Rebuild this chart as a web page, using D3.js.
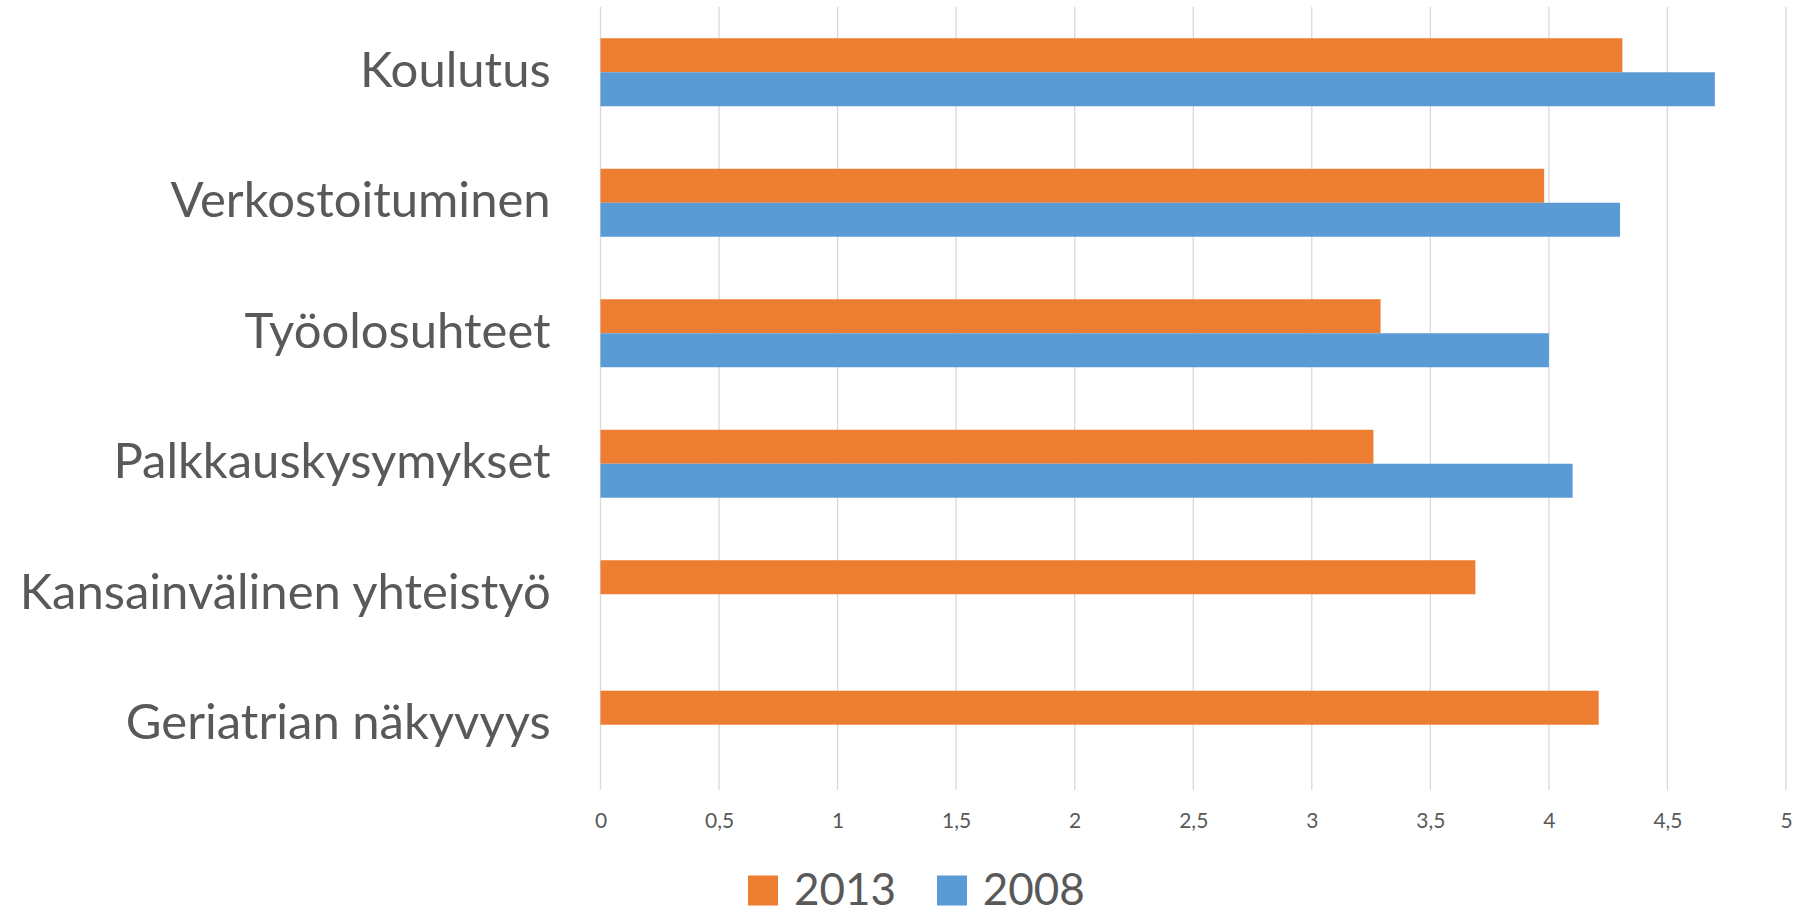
<!DOCTYPE html>
<html>
<head>
<meta charset="utf-8">
<script src="https://cdn.jsdelivr.net/npm/d3@7"></script>
<style>
  html, body { margin: 0; padding: 0; background: #ffffff; }
  svg { display: block; }
  text { font-family: Lato, "Open Sans", sans-serif; fill: #595959; }
</style>
</head>
<body>
<svg id="chart" width="1807" height="914"></svg>
<script>
// ---- data ----
const categories = ["Koulutus", "Verkostoituminen", "Työolosuhteet", "Palkkauskysymykset", "Kansainvälinen yhteistyö", "Geriatrian näkyvyys"];
const seriesNames = ["2013", "2008"];
const values2013 = [4.31, 3.98, 3.29, 3.26, 3.69, 4.21];
const values2008 = [4.70, 4.30, 4.00, 4.10, null, null];
const tickValues = [0, 0.5, 1, 1.5, 2, 2.5, 3, 3.5, 4, 4.5, 5];
const colors = ["#ED7D31", "#5B9BD5"];

// ---- layout ----
const W = 1807, H = 914;
const plot = { left: 600.5, right: 1786, top: 7, bottom: 790 };

const svg = d3.select("#chart");

const x = d3.scaleLinear().domain([0, 5]).range([plot.left, plot.right]);
const y = d3.scaleBand().domain(categories).range([plot.top, plot.bottom])
  .paddingInner(0.479).paddingOuter(0.2395);
const ySub = d3.scaleBand().domain(seriesNames).range([0, y.bandwidth()]);
const color = d3.scaleOrdinal().domain(seriesNames).range(colors);

const seriesValues = { "2013": values2013, "2008": values2008 };

// gridlines
svg.append("g").selectAll("line").data(tickValues).join("line")
  .attr("x1", d => x(d)).attr("x2", d => x(d))
  .attr("y1", plot.top).attr("y2", plot.bottom)
  .attr("stroke", "#d9d9d9").attr("stroke-width", 1.3);

// bars
const rows = [];
categories.forEach((c, i) => {
  seriesNames.forEach(s => {
    const v = seriesValues[s][i];
    if (v != null) rows.push({ cat: c, series: s, value: v });
  });
});
svg.append("g").selectAll("rect").data(rows).join("rect")
  .attr("x", x(0))
  .attr("y", d => y(d.cat) + ySub(d.series))
  .attr("width", d => x(d.value) - x(0))
  .attr("height", ySub.bandwidth())
  .attr("fill", d => color(d.series));

// x axis tick labels
const xAxis = d3.axisBottom(x).tickValues(tickValues).tickSize(0).tickPadding(0)
  .tickFormat(d => String(d).replace(".", ","));
const gx = svg.append("g").attr("transform", `translate(0,${plot.bottom})`).call(xAxis);
gx.select(".domain").remove();
gx.selectAll("text")
  .attr("dy", null)
  .attr("y", 38.3)
  .style("font-family", "Lato, sans-serif")
  .style("font-size", "21px")
  .attr("fill", "#595959");

// y axis category labels
const yAxis = d3.axisLeft(y).tickSize(0).tickPadding(0);
const gy = svg.append("g").attr("transform", `translate(550.7,0)`).call(yAxis);
gy.select(".domain").remove();
gy.selectAll("text")
  .attr("dy", null)
  .attr("x", 0)
  .attr("y", 14.6)
  .attr("text-anchor", "end")
  .style("font-family", "Lato, sans-serif")
  .style("font-size", "49px")
  .attr("fill", "#595959");

// legend
const legend = svg.append("g");
const legendItems = [
  { name: seriesNames[0], sx: 748, tx: 794 },
  { name: seriesNames[1], sx: 937, tx: 982.7 }
];
legendItems.forEach(it => {
  legend.append("rect").attr("x", it.sx).attr("y", 875.5).attr("width", 30).attr("height", 30)
    .attr("fill", color(it.name));
  legend.append("text").attr("x", it.tx).attr("y", 905)
    .style("font-size", "44px").attr("fill", "#595959").text(it.name);
});
</script>
</body>
</html>
